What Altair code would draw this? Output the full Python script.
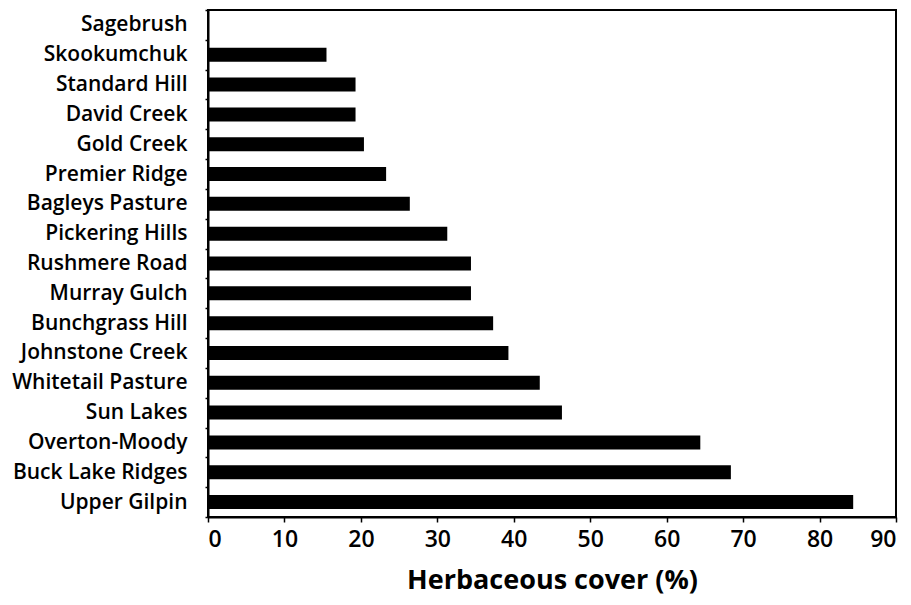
import altair as alt
import pandas as pd

sites = [
    "Sagebrush", "Skookumchuk", "Standard Hill", "David Creek", "Gold Creek",
    "Premier Ridge", "Bagleys Pasture", "Pickering Hills", "Rushmere Road",
    "Murray Gulch", "Bunchgrass Hill", "Johnstone Creek", "Whitetail Pasture",
    "Sun Lakes", "Overton-Moody", "Buck Lake Ridges", "Upper Gilpin",
]
cover = [0, 15.5, 19.3, 19.3, 20.4, 23.3, 26.4, 31.3, 34.4, 34.4, 37.3,
         39.3, 43.4, 46.3, 64.4, 68.4, 84.4]
x_ticks = [0, 10, 20, 30, 40, 50, 60, 70, 80, 90]

df = pd.DataFrame({"site": sites, "cover": cover})

FONT = "Open Sans"

chart = (
    alt.Chart(df)
    .mark_bar(color="black", size=14)
    .encode(
        x=alt.X(
            "cover:Q",
            scale=alt.Scale(domain=[0, 90], nice=False, zero=True),
            axis=alt.Axis(
                values=x_ticks,
                title="Herbaceous cover (%)",
                grid=False,
                domainColor="black",
                domainWidth=2,
                tickColor="black",
                tickWidth=1.5,
                tickSize=5,
                labelFont=FONT,
                labelFontSize=23,
                labelFontWeight=600,
                labelColor="black",
                labelPadding=6,
                titleFont=FONT,
                titleFontSize=27,
                titleFontWeight="bold",
                titleColor="black",
                titlePadding=16,
            ),
        ),
        y=alt.Y(
            "site:N",
            sort=sites,
            scale=alt.Scale(paddingInner=0, paddingOuter=0),
            axis=alt.Axis(
                title=None,
                tickBand="extent",
                domainColor="black",
                domainWidth=2,
                tickColor="black",
                tickWidth=1.5,
                tickSize=3,
                labelFont=FONT,
                labelFontSize=21,
                labelFontWeight=600,
                labelColor="black",
                labelPadding=18,
            ),
        ),
    )
    .properties(
        width=688,
        height=507,
        autosize=alt.AutoSizeParams(type="none"),
        padding={"left": 200, "top": 2, "right": 6, "bottom": 80},
    )
    .configure_view(stroke="black", strokeWidth=2)
)

chart.save("out.html", embed_options={"renderer": "svg", "actions": False})
